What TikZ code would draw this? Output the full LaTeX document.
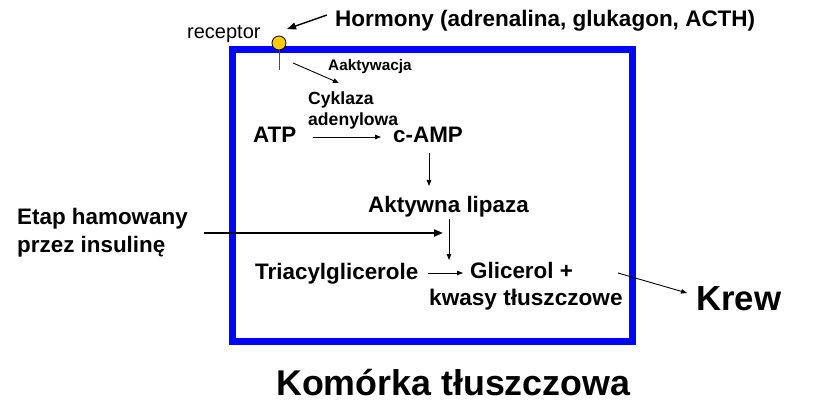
\documentclass[tikz,border=0pt]{standalone}
\usepackage{fontspec}
\setmainfont{Liberation Sans}
\usetikzlibrary{arrows.meta}
\definecolor{boxblue}{RGB}{0,0,255}
\definecolor{recgold}{RGB}{255,204,0}
\begin{document}
\begin{tikzpicture}[x=1pt,y=-1pt,
  lbl/.style={anchor=base west,inner sep=0pt,font=\bfseries\fontsize{22.4}{26}\selectfont},
  lblsm/.style={anchor=base west,inner sep=0pt,font=\bfseries\fontsize{17.6}{21}\selectfont},
  thinarrow/.style={draw=black,line width=0.9pt,-{Triangle[length=6pt,width=4.5pt]}},
  thickarrow/.style={draw=black,line width=2pt,-{Triangle[length=9pt,width=7pt]}}]
\useasboundingbox (0,0) rectangle (822,414);
% cell box
\draw[boxblue,line width=7pt] (232,49.5) rectangle (632.5,341);
% receptor
\coordinate (stemend) at (279,70);
\node[circle,draw=black,line width=0.8pt,fill=recgold,minimum size=14pt,inner sep=0pt] (rec) at (279,43) {};
\draw[black!70,line width=1pt] (rec.south) -- (stemend);
\node[anchor=base west,inner sep=0pt,font=\fontsize{20}{24}\selectfont] (receptor) at (187,39) {receptor};
% texts
\node[lbl,font=\bfseries\fontsize{22.5}{26}\selectfont] (horm) at (335,27) {Hormony (adrenalina, glukagon, ACTH)};
\node[anchor=base west,inner sep=0pt,font=\bfseries\fontsize{15.3}{18}\selectfont] (akt) at (328,71) {Aaktywacja};
\node[lblsm] (cykl1) at (308,105) {Cyklaza};
\node[lblsm] (cykl2) at (308,126) {adenylowa};
\node[lbl] (atp) at (253,143) {ATP};
\node[lbl] (camp) at (393,143) {c-AMP};
\node[lbl] (lip) at (368,213) {Aktywna lipaza};
\node[lbl] (etap1) at (17,225) {Etap hamowany};
\node[lbl] (etap2) at (17,252) {przez insulinę};
\node[lbl] (tri) at (255,279) {Triacylglicerole};
\node[lbl] (gli1) at (470,278) {Glicerol +};
\node[lbl,font=\bfseries\fontsize{22.6}{26}\selectfont] (gli2) at (429,305) {kwasy tłuszczowe};
\node[anchor=base west,inner sep=0pt,font=\bfseries\fontsize{34.8}{40}\selectfont] (krew) at (696,310) {Krew};
\node[anchor=base west,inner sep=0pt,font=\bfseries\fontsize{35.8}{40}\selectfont] (kom) at (276,395) {Komórka tłuszczowa};
% arrow end points
\coordinate (hormS) at (327,15);
\coordinate (hormE) at (287,29);
\coordinate (aktS) at (293,63);
\coordinate (aktE) at (339,83);
\coordinate (atpS) at (313,137);
\coordinate (atpE) at (381,137);
\coordinate (campS) at (429,153);
\coordinate (campE) at (429,186);
\coordinate (insS) at (204,233);
\coordinate (insE) at (443,233);
\coordinate (lipS) at (449,219);
\coordinate (lipE) at (449,260);
\coordinate (triS) at (428,273);
\coordinate (triE) at (463,273);
\coordinate (kS) at (618,273);
\coordinate (kE) at (687,293);
% connectors
\draw[thinarrow,line width=1.4pt,-{Triangle[length=9pt,width=7pt]}] (hormS) -- (hormE);
\draw[thinarrow] (aktS) -- (aktE);
\draw[thinarrow] (atpS) -- (atpE);
\draw[thinarrow] (campS) -- (campE);
\draw[thickarrow] (insS) -- (insE);
\draw[thinarrow] (lipS) -- (lipE);
\draw[thinarrow] (triS) -- (triE);
\draw[thinarrow] (kS) -- (kE);
\end{tikzpicture}
\end{document}
